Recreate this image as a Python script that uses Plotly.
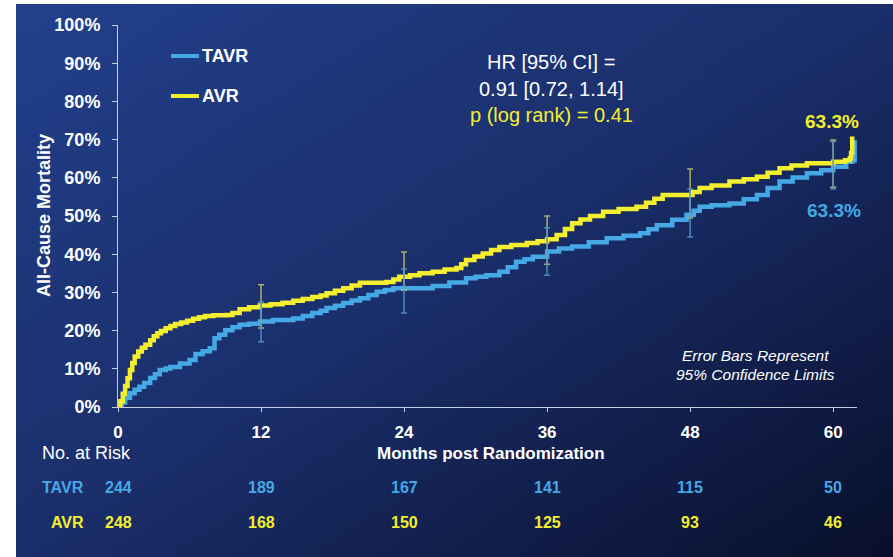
import base64, struct, zlib
import plotly.graph_objects as go

# ---------------- data ----------------
avr_t = [0, 0.2, 0.4, 0.6, 0.8, 1.0, 1.2, 1.4, 1.7, 2.0, 2.3, 2.7, 3.0, 3.3, 3.6, 4.0, 4.4, 4.8, 5.3, 5.8,
         6.3, 6.8, 7.3, 8.0, 9.1, 9.6, 10.2, 11.0, 11.9, 12.8, 13.8, 14.7, 15.5, 16.3, 17.0, 17.5, 18.2,
         18.9, 19.6, 20.3, 22.5, 23.1, 23.6, 24.5, 25.3, 26.4, 27.4, 28.4, 28.8, 29.2, 29.9, 30.6, 31.3,
         32.0, 33.0, 34.3, 35.2, 36.0, 36.8, 37.5, 38.1, 38.8, 39.6, 40.7, 42.0, 43.5, 44.3, 45.0, 45.7,
         47.7, 48.2, 48.8, 49.8, 51.3, 52.5, 53.6, 54.5, 55.5, 56.5, 57.8, 60.0, 61.0, 61.4, 61.5, 61.6]
avr_pct = [0, 1.5, 3.5, 5.5, 7.5, 9.7, 11.5, 13.2, 14.5, 15.5, 16.3, 17.5, 18.5, 19.3, 19.9, 20.6, 21.2,
           21.7, 22.1, 22.6, 23.1, 23.5, 23.8, 24.0, 24.1, 24.6, 25.6, 26.1, 26.6, 26.9, 27.3, 27.8, 28.3,
           28.8, 29.2, 29.8, 30.4, 31.1, 31.8, 32.5, 32.7, 33.4, 34.1, 34.5, 35.0, 35.4, 36.0, 36.4, 37.4,
           38.5, 39.4, 40.2, 41.1, 41.9, 42.4, 42.9, 43.4, 43.9, 45.0, 46.6, 48.1, 49.1, 50.0, 51.1, 51.8,
           52.4, 53.5, 54.5, 55.5, 55.5, 56.3, 57.3, 58.0, 59.0, 59.6, 60.3, 61.3, 62.5, 63.2, 63.8, 64.2,
           64.6, 65.1, 66.5, 70.8]

tavr_t = [0, 0.3, 0.6, 1.0, 1.4, 1.8, 2.2, 2.7, 3.1, 3.5, 4.0, 4.4, 5.2, 6.0, 6.5, 7.1, 7.7, 8.1, 8.5, 9.0,
          9.6, 10.2, 11.0, 11.9, 13.0, 14.7, 15.5, 16.3, 17.0, 17.5, 18.2, 18.9, 19.6, 20.3, 21.0, 21.7,
          22.4, 23.1, 25.3, 26.4, 27.8, 29.2, 30.0, 30.9, 32.0, 32.7, 33.4, 34.1, 34.8, 36.0, 37.0, 38.1,
          39.5, 41.0, 42.4, 43.8, 44.5, 45.2, 46.5, 47.7, 48.3, 48.8, 49.8, 51.3, 52.5, 53.6, 54.5, 55.5,
          56.6, 57.8, 59.0, 60.0, 61.1, 61.6, 61.8]
tavr_pct = [0, 1.2, 2.4, 3.6, 4.5, 5.3, 6.3, 7.6, 8.6, 9.7, 10.1, 10.5, 11.4, 12.3, 13.9, 14.6, 15.4, 18.0,
            18.9, 20.1, 20.9, 21.5, 21.8, 22.4, 22.8, 23.2, 23.8, 24.6, 25.2, 25.9, 26.5, 27.2, 27.9, 28.5,
            29.3, 30.2, 30.6, 31.1, 31.1, 31.7, 32.6, 33.7, 34.1, 34.5, 35.4, 36.6, 38.0, 38.7, 39.3, 40.7,
            41.5, 42.0, 43.1, 44.2, 44.8, 45.5, 46.5, 47.6, 49.0, 50.3, 51.4, 52.4, 52.8, 53.3, 54.4, 55.5,
            57.3, 59.0, 60.1, 61.2, 62.0, 62.9, 64.2, 64.5, 69.8]

ci_months = [12, 24, 36, 48, 60]
avr_ci_low = [20.7, 30.6, 37.4, 49.5, 57.5]
avr_ci_high = [32.0, 40.6, 50.0, 62.3, 69.9]
tavr_ci_low = [17.1, 24.6, 34.5, 44.5, 57.1]
tavr_ci_high = [27.5, 36.1, 46.9, 57.1, 69.5]

risk_months = [0, 12, 24, 36, 48, 60]
tavr_at_risk = [244, 189, 167, 141, 115, 50]
avr_at_risk = [248, 168, 150, 125, 93, 46]

y_ticks = [0, 10, 20, 30, 40, 50, 60, 70, 80, 90, 100]
x_ticks = [0, 12, 24, 36, 48, 60]

BLUE = "#45a9e6"
YELLOW = "#f4ef2e"
FONT = "Liberation Sans"

# ---------------- pixel helpers (plot area 118..857 x 25..407) ----------------
W, H = 893, 557
L, R, T, B = 118, 857, 25, 407


def xp(px):
    return (px - L) / (R - L)


def yp(py):
    return (B - py) / (B - T)


# ---------------- gradient background as tiny PNG ----------------
def gradient_png(w, h):
    stops = [(0.0, (34, 64, 140)), (0.5, (26, 46, 106)), (1.0, (9, 16, 44))]

    def col(t):
        for (t0, c0), (t1, c1) in zip(stops[:-1], stops[1:]):
            if t <= t1:
                f = (t - t0) / (t1 - t0)
                return tuple(int(round(a + (b - a) * f)) for a, b in zip(c0, c1))
        return stops[-1][1]

    raw = bytearray()
    for j in range(h):
        raw.append(0)
        for i in range(w):
            t = (i / (w - 1) + j / (h - 1)) / 2
            raw.extend(col(t))

    def chunk(tag, data):
        c = struct.pack(">I", len(data)) + tag + data
        return c + struct.pack(">I", zlib.crc32(tag + data) & 0xFFFFFFFF)

    png = b"\x89PNG\r\n\x1a\n"
    png += chunk(b"IHDR", struct.pack(">IIBBBBB", w, h, 8, 2, 0, 0, 0))
    png += chunk(b"IDAT", zlib.compress(bytes(raw), 9))
    png += chunk(b"IEND", b"")
    return "data:image/png;base64," + base64.b64encode(png).decode()


bg = gradient_png(120, 76)

fig = go.Figure()

# curves (blue first, yellow on top)
fig.add_trace(go.Scatter(x=tavr_t, y=tavr_pct, mode="lines", line=dict(color=BLUE, width=4.5, shape="hv"),
                         name="TAVR", showlegend=False, hoverinfo="skip"))
fig.add_trace(go.Scatter(x=avr_t, y=avr_pct, mode="lines", line=dict(color=YELLOW, width=4.5, shape="hv"),
                         name="AVR", showlegend=False, hoverinfo="skip"))

# error bars
for lo, hi, c in [(avr_ci_low, avr_ci_high, "rgba(200,200,100,0.85)"),
                  (tavr_ci_low, tavr_ci_high, "rgba(80,150,200,0.9)")]:
    mid = [(a + b) / 2 for a, b in zip(lo, hi)]
    half = [(b - a) / 2 for a, b in zip(lo, hi)]
    fig.add_trace(go.Scatter(x=ci_months, y=mid, mode="markers", marker=dict(size=1, opacity=0),
                             error_y=dict(type="data", array=half, symmetric=True, color=c,
                                          thickness=1.5, width=3),
                             showlegend=False, hoverinfo="skip"))

ann = []


def text(x, y, s, size, color="white", bold=False, italic=False, xanchor="center", xref="paper",
         angle=0):
    ann.append(dict(x=x, y=y, xref=xref, yref="paper", text=s, showarrow=False, xanchor=xanchor,
                    yanchor="middle", textangle=angle,
                    font=dict(family=FONT, size=size, color=color,
                              weight="bold" if bold else "normal",
                              style="italic" if italic else "normal")))


# legend
text(xp(200), yp(56), "TAVR", 18, bold=True, xanchor="left")
text(xp(200), yp(96), "AVR", 18, bold=True, xanchor="left")

# HR text
text(xp(551), yp(62), "HR [95% CI] =", 20)
text(xp(551), yp(89), "0.91 [0.72, 1.14]", 20)
text(xp(551), yp(115), "p (log rank) = 0.41", 20, color=YELLOW)

# end labels
text(xp(832), yp(121), "63.3%", 19, color=YELLOW, bold=True)
text(xp(834), yp(210), "63.3%", 19, color=BLUE, bold=True)

# error bar note
text(xp(755), yp(355), "Error Bars Represent", 15.5, italic=True)
text(xp(755), yp(374), "95% Confidence Limits", 15.5, italic=True)

# axis titles
text(xp(44), 0.5, "All-Cause Mortality", 18, bold=True, angle=-90)
text(xp(491), yp(453), "Months post Randomization", 17, bold=True)
text(xp(40), yp(453), "No. at Risk", 18, xanchor="left")

# at risk table
text(xp(86), yp(487), "TAVR", 16, color=BLUE, bold=True, xanchor="right")
text(xp(86), yp(522), "AVR", 16, color=YELLOW, bold=True, xanchor="right")
for m, a, b in zip(risk_months, tavr_at_risk, avr_at_risk):
    text(m, yp(487), str(a), 16, color=BLUE, bold=True, xref="x")
    text(m, yp(522), str(b), 16, color=YELLOW, bold=True, xref="x")

shapes = [
    dict(type="line", xref="paper", yref="paper", x0=xp(171), x1=xp(199), y0=yp(56), y1=yp(56),
         line=dict(color=BLUE, width=4)),
    dict(type="line", xref="paper", yref="paper", x0=xp(171), x1=xp(199), y0=yp(96), y1=yp(96),
         line=dict(color=YELLOW, width=4)),
]

AX = "#c5cde0"
fig.update_layout(
    width=W, height=H,
    margin=dict(l=L, r=W - R, t=T, b=H - B, pad=0),
    paper_bgcolor="white", plot_bgcolor="rgba(0,0,0,0)",
    annotations=ann, shapes=shapes,
    images=[dict(source=bg, xref="paper", yref="paper", x=xp(16), y=yp(4),
                 sizex=(W - 16) / (R - L), sizey=(H - 4) / (B - T), sizing="stretch",
                 xanchor="left", yanchor="top", layer="below")],
    xaxis=dict(range=[0, 62.0], tickvals=x_ticks, ticktext=[str(v) for v in x_ticks],
               showgrid=False, zeroline=False, showline=True, linecolor=AX, linewidth=1,
               ticks="outside", ticklen=4, tickcolor=AX, ticklabelstandoff=6,
               tickfont=dict(family=FONT, size=17, color="white", weight="bold")),
    yaxis=dict(range=[0, 100], tickvals=y_ticks, ticktext=[f"{v}%" for v in y_ticks],
               showgrid=False, zeroline=False, showline=True, linecolor=AX, linewidth=1,
               ticks="outside", ticklen=5, tickcolor=AX, ticklabelstandoff=8,
               tickfont=dict(family=FONT, size=18, color="white", weight="bold")),
)

fig.write_html("out.html", config={"displayModeBar": False},
               post_script="document.body.style.margin='0';document.body.style.overflow='hidden';")
